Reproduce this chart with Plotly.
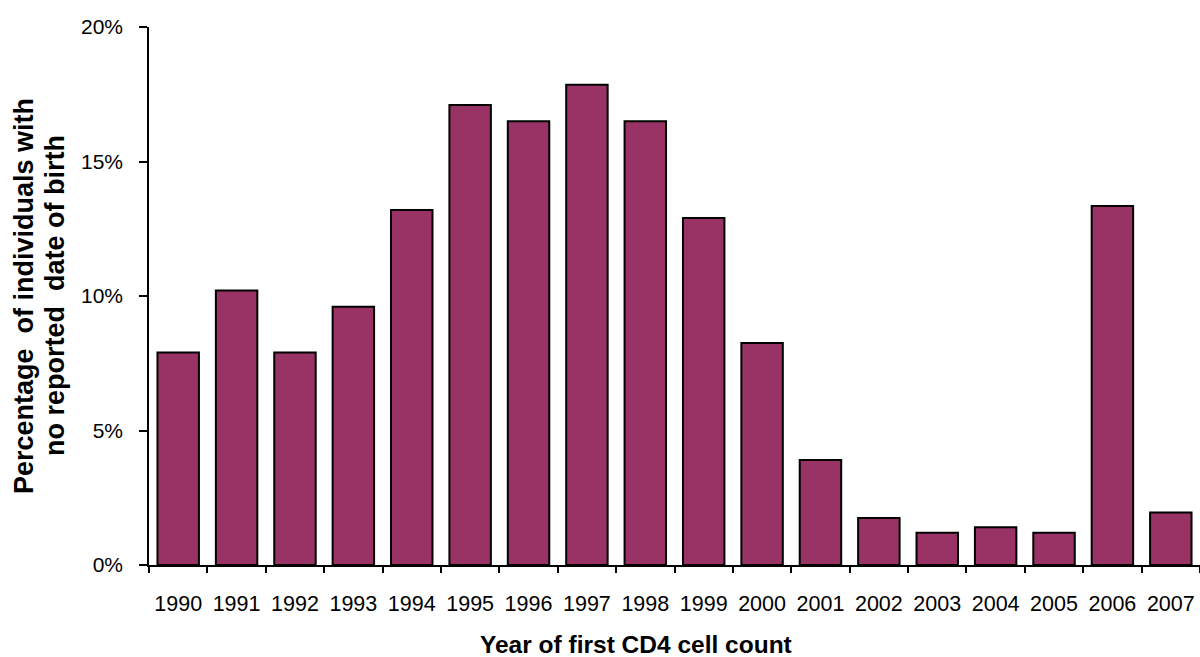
import plotly.graph_objects as go

# Share of individuals with no reported date of birth, by year of first CD4 count
years = ["1990", "1991", "1992", "1993", "1994", "1995", "1996", "1997", "1998",
         "1999", "2000", "2001", "2002", "2003", "2004", "2005", "2006", "2007"]
pct_no_dob = [7.9, 10.2, 7.9, 9.6, 13.2, 17.1, 16.5, 17.85, 16.5,
              12.9, 8.25, 3.9, 1.75, 1.2, 1.4, 1.2, 13.35, 1.95]
y_ticks = [0, 5, 10, 15, 20]
y_tick_labels = [f"{v}%" for v in y_ticks]
y_title_lines = ["Percentage  of individuals with", "no reported  date of birth"]

fig = go.Figure(
    go.Bar(
        x=years,
        y=pct_no_dob,
        marker=dict(color="#993366", line=dict(color="#000000", width=2)),
        width=0.71,
    )
)

font_family = "Liberation Sans, Arial, sans-serif"

# y-axis title drawn as two rotated lines, placed side by side
y_title_x = [-0.1189, -0.0894]
annotations = [
    dict(
        text="<b>Year of first CD4 cell count</b>",
        xref="paper", yref="paper",
        x=0.463, y=-0.148,
        xanchor="center", yanchor="middle",
        showarrow=False,
        font=dict(size=24.5),
    )
]
for line, xpos in zip(y_title_lines, y_title_x):
    annotations.append(
        dict(
            text=f"<b>{line}</b>",
            xref="paper", yref="paper",
            x=xpos, y=0.5,
            xanchor="center", yanchor="middle",
            textangle=-90,
            showarrow=False,
            font=dict(size=27),
        )
    )

fig.update_layout(
    width=1200,
    height=657,
    margin=dict(l=149, r=0, t=27, b=92),
    paper_bgcolor="white",
    plot_bgcolor="white",
    showlegend=False,
    font=dict(family=font_family, size=21, color="#000000"),
    xaxis=dict(
        type="category",
        range=[-0.5, 17.5],
        showline=True,
        linecolor="#000000",
        linewidth=1.5,
        ticks="outside",
        tickson="boundaries",
        ticklen=6,
        tickwidth=1.5,
        tickcolor="#000000",
        showgrid=False,
        ticklabelstandoff=18,
        tickfont=dict(size=21.5),
    ),
    yaxis=dict(
        range=[0, 20],
        tickmode="array",
        tickvals=y_ticks,
        ticktext=y_tick_labels,
        showline=True,
        linecolor="#000000",
        linewidth=1.5,
        ticks="outside",
        ticklen=8,
        tickwidth=1.5,
        tickcolor="#000000",
        showgrid=False,
        zeroline=False,
        ticklabelstandoff=12,
        tickfont=dict(size=21),
    ),
    annotations=annotations,
)

fig.write_html("out.html")
